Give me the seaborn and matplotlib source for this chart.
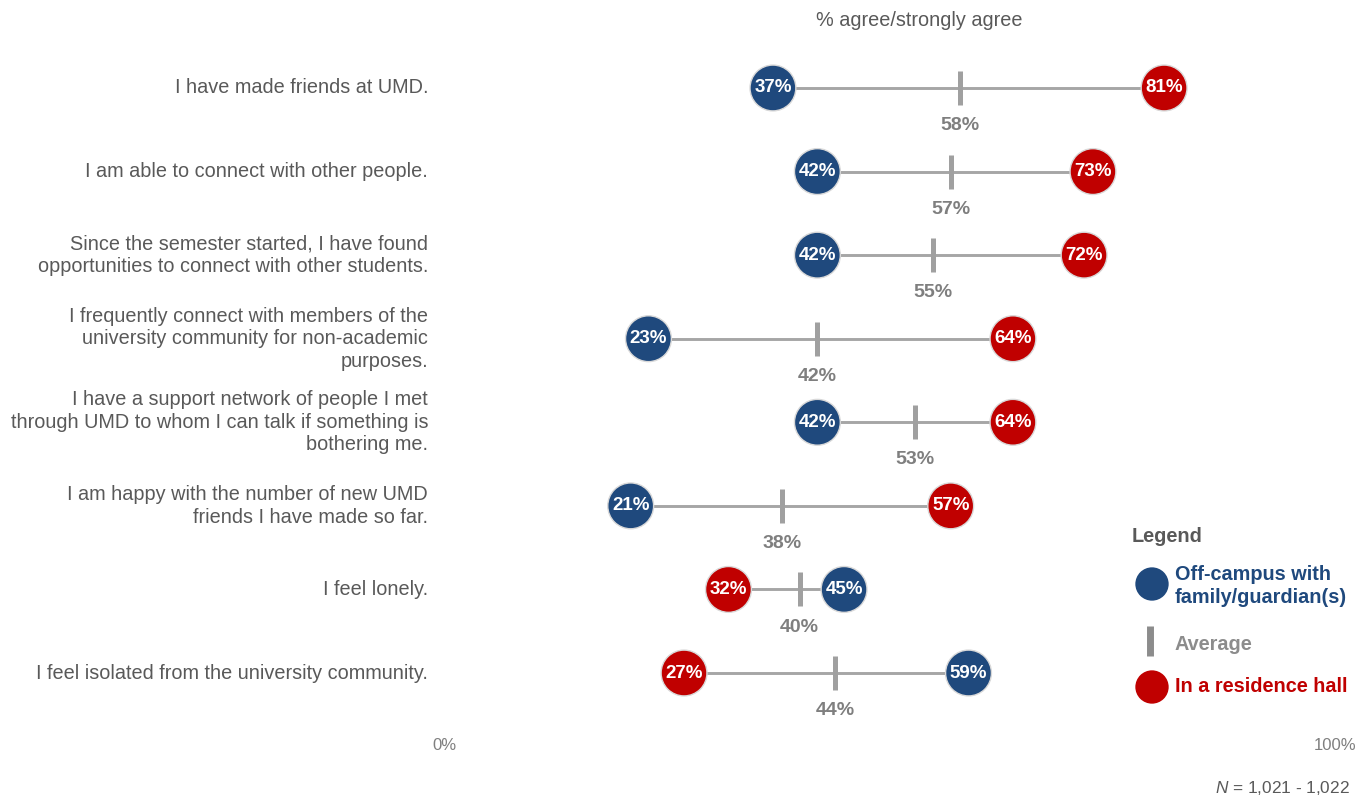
import matplotlib
matplotlib.use("Agg")
import matplotlib.pyplot as plt
import seaborn as sns
import pandas as pd
import numpy as np

questions = [
    "I have made friends at UMD.",
    "I am able to connect with other people.",
    "Since the semester started, I have found\nopportunities to connect with other students.",
    "I frequently connect with members of the\nuniversity community for non-academic\npurposes.",
    "I have a support network of people I met\nthrough UMD to whom I can talk if something is\nbothering me.",
    "I am happy with the number of new UMD\nfriends I have made so far.",
    "I feel lonely.",
    "I feel isolated from the university community.",
]
off_campus = [37, 42, 42, 23, 42, 21, 45, 59]
residence = [81, 73, 72, 64, 64, 57, 32, 27]
average = [58, 57, 55, 42, 53, 38, 40, 44]

BLUE = "#1F497D"
RED = "#C00000"
GREY_LINE = "#A6A6A6"
GREY_AVG = "#A0A0A0"
TEXT = "#595959"
FS = 14.3

sns.set_theme(style="white")
plt.rcParams["font.family"] = ["Liberation Sans", "DejaVu Sans"]
plt.rcParams["mathtext.fontset"] = "custom"
plt.rcParams["mathtext.it"] = "Liberation Sans:italic"
plt.rcParams["mathtext.rm"] = "Liberation Sans"

W, H = 1370, 799
fig = plt.figure(figsize=(W / 100, H / 100), dpi=100)
top_px, bot_px = 46.2, 714.8
ax = fig.add_axes([444 / W, 1 - bot_px / H, (1333 - 444) / W, (bot_px - top_px) / H])

n = len(questions)
ypos = np.arange(n)

df = pd.DataFrame({
    "y": np.concatenate([ypos, ypos]),
    "value": off_campus + residence,
    "group": ["Off-campus"] * n + ["Residence"] * n,
})

# connecting lines
ax.hlines(ypos, [min(a, b) for a, b in zip(off_campus, residence)],
          [max(a, b) for a, b in zip(off_campus, residence)],
          color=GREY_LINE, lw=2.1, zorder=1)

# average ticks
ax.scatter(average, ypos, marker="|", s=(25) ** 2, linewidths=3.6, color=GREY_AVG, zorder=2)

sns.scatterplot(data=df, x="value", y="y", hue="group",
                palette={"Off-campus": BLUE, "Residence": RED},
                s=33 ** 2, edgecolor="#D9D9D9", linewidth=1.0, legend=False, ax=ax, zorder=3)

for y, v in zip(ypos, off_campus):
    ax.text(v, y, f"{v}%", color="white", fontsize=13.5, fontweight="bold",
            ha="center", va="center", zorder=4)
for y, v in zip(ypos, residence):
    ax.text(v, y, f"{v}%", color="white", fontsize=13.5, fontweight="bold",
            ha="center", va="center", zorder=4)
for y, v in zip(ypos, average):
    ax.text(v, y + 0.45, f"{v}%", color="#7F7F7F", fontsize=14, fontweight="bold",
            ha="center", va="center", zorder=4)

ax.set_xlim(0, 100)
ax.set_ylim(n - 0.5, -0.5)
ax.set_xticks([])
ax.set_yticks([])
ax.set_xlabel("")
ax.set_ylabel("")
for s in ax.spines.values():
    s.set_visible(False)

# question labels
for y, q in zip(ypos, questions):
    ax.annotate(q, xy=(0, y), xycoords=("axes fraction", "data"), xytext=(-16, 0),
                textcoords="offset pixels", ha="right", va="center",
                fontsize=FS, color=TEXT, linespacing=1.24)

# title
fig.text(919 / W, 1 - 20 / H, "% agree/strongly agree", ha="center", va="center",
         fontsize=FS, color=TEXT)

# axis end labels
fig.text(444 / W, 1 - 745 / H, "0%", ha="center", va="center", fontsize=12, color="#7F7F7F")
fig.text(1335 / W, 1 - 745 / H, "100%", ha="center", va="center", fontsize=12, color="#7F7F7F")

# N note
fig.text(1350 / W, 1 - 788 / H, "$N$ = 1,021 - 1,022", ha="right", va="center",
         fontsize=12.4, color=TEXT)

# legend
fig.text(1132 / W, 1 - 536 / H, "Legend", ha="left", va="center", fontsize=FS,
         fontweight="bold", color=TEXT)
lax = fig.add_axes([0, 0, 1, 1], facecolor="none")
lax.set_xlim(0, W)
lax.set_ylim(H, 0)
lax.axis("off")
lax.scatter([1152], [584], s=24 ** 2, color=BLUE, edgecolor="none")
lax.scatter([1150], [641], marker="|", s=22 ** 2, linewidths=5, color="#8C8C8C")
lax.scatter([1152], [687], s=24 ** 2, color=RED, edgecolor="none")
lax.text(1175, 586, "Off-campus with\nfamily/guardian(s)", ha="left", va="center",
         fontsize=FS, fontweight="bold", color=BLUE, linespacing=1.3)
lax.text(1175, 644, "Average", ha="left", va="center", fontsize=FS,
         fontweight="bold", color="#8C8C8C")
lax.text(1175, 687, "In a residence hall", ha="left", va="center", fontsize=FS,
         fontweight="bold", color=RED)

fig.savefig("out.png", dpi=100)
